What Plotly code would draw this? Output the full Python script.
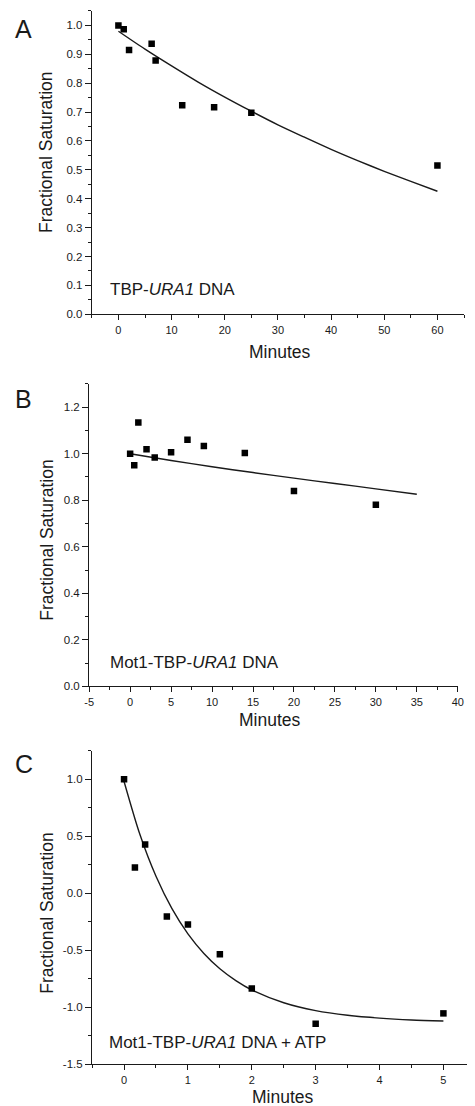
import plotly.graph_objects as go

W, H = 475, 1106

# ---------------- data ----------------
# Panel A: TBP-URA1 DNA
a_x = [0, 1, 2, 6.25, 7, 12, 18, 25, 60]
a_y = [1.0, 0.987, 0.915, 0.937, 0.879, 0.724, 0.717, 0.698, 0.515]
a_fit_x = [0, 5, 10, 15, 20, 25, 30, 35, 40, 45, 50, 55, 60]
a_fit_y = [0.980, 0.918, 0.860, 0.804, 0.752, 0.703, 0.656, 0.613, 0.571, 0.532, 0.495, 0.460, 0.426]

# Panel B: Mot1-TBP-URA1 DNA
b_x = [0, 0.5, 1, 2, 3, 5, 7, 9, 14, 20, 30]
b_y = [1.0, 0.950, 1.134, 1.019, 0.984, 1.006, 1.060, 1.033, 1.003, 0.840, 0.781]
b_fit_x = [0, 5, 10, 15, 20, 25, 30, 35]
b_fit_y = [1.000, 0.971, 0.944, 0.919, 0.895, 0.872, 0.849, 0.826]

# Panel C: Mot1-TBP-URA1 DNA + ATP
c_x = [0, 0.17, 0.33, 0.67, 1, 1.5, 2, 3, 5]
c_y = [1.0, 0.225, 0.427, -0.204, -0.274, -0.536, -0.836, -1.144, -1.054]
c_fit_x = [0, 0.25, 0.5, 0.75, 1.0, 1.25, 1.5, 1.75, 2.0, 2.5, 3.0, 3.5, 4.0, 4.5, 5.0]
c_fit_y = [0.98, 0.512, 0.148, -0.136, -0.357, -0.529, -0.663, -0.767, -0.849, -0.961, -1.030, -1.071, -1.096, -1.112, -1.121]

# tick labels
a_xticks = [0, 10, 20, 30, 40, 50, 60]
a_yticks = [0.0, 0.1, 0.2, 0.3, 0.4, 0.5, 0.6, 0.7, 0.8, 0.9, 1.0]
b_xticks = [-5, 0, 5, 10, 15, 20, 25, 30, 35, 40]
b_yticks = [0.0, 0.2, 0.4, 0.6, 0.8, 1.0, 1.2]
c_xticks = [0, 1, 2, 3, 4, 5]
c_yticks = [-1.5, -1.0, -0.5, 0.0, 0.5, 1.0]

FONT = "Liberation Sans, Arial, sans-serif"
INK = "#1a1a1a"


def lab(v, nd):
    return f"{v:.{nd}f}"  # hyphen-minus kept as in the reference


def px_x(p):
    return p / W


def px_y(p):
    return 1 - p / H


fig = go.Figure()

panels = [
    (a_x, a_y, a_fit_x, a_fit_y, "x", "y"),
    (b_x, b_y, b_fit_x, b_fit_y, "x2", "y2"),
    (c_x, c_y, c_fit_x, c_fit_y, "x3", "y3"),
]
for px_, py_, fx, fy, xa, ya in panels:
    fig.add_trace(go.Scatter(x=fx, y=fy, mode="lines",
                             line=dict(color=INK, width=1.4, shape="spline", smoothing=0.8),
                             xaxis=xa, yaxis=ya, showlegend=False, hoverinfo="skip"))
    fig.add_trace(go.Scatter(x=px_, y=py_, mode="markers",
                             marker=dict(symbol="square", size=6.5, color="black"),
                             xaxis=xa, yaxis=ya, showlegend=False))


def xax(domain, anchor, rng, ticks, nd, minor_dtick):
    return dict(domain=domain, anchor=anchor, range=rng, tickmode="array", tickvals=ticks,
                ticktext=[lab(t, nd) for t in ticks], showline=True, linecolor=INK, linewidth=1.3,
                ticks="outside", ticklen=5, tickwidth=1.2, tickcolor=INK, showgrid=False, zeroline=False,
                tickfont=dict(family=FONT, size=11, color=INK),
                minor=dict(dtick=minor_dtick, tick0=0, ticks="outside", ticklen=3, tickwidth=1.1, tickcolor=INK,
                           showgrid=False))


def yax(domain, anchor, rng, ticks, nd, minor_dtick):
    d = xax(domain, anchor, rng, ticks, nd, minor_dtick)
    d["ticklen"] = 6
    d["tickfont"] = dict(family=FONT, size=11.5, color=INK)
    return d


fig.update_layout(
    width=W, height=H, margin=dict(l=0, r=0, t=0, b=0),
    paper_bgcolor="white", plot_bgcolor="white",
    xaxis=xax([px_x(80.7), px_x(461.7)], "y", [-5, 65], a_xticks, 0, 5),
    yaxis=yax([px_y(308), px_y(3)], "x", [0, 1.05], a_yticks, 1, 0.05),
    xaxis2=xax([px_x(78), px_x(455.3)], "y2", [-5, 40], b_xticks, 0, 2.5),
    yaxis2=yax([px_y(682), px_y(378)], "x2", [0, 1.3], b_yticks, 1, 0.1),
    xaxis3=xax([px_x(81), px_x(473.3)], "y3", [-0.5, 5.5], c_xticks, 0, 0.5),
    yaxis3=yax([px_y(1062), px_y(746.7)], "x3", [-1.5, 1.25], c_yticks, 1, 0.25),
)

ann = []
# panel letters
for letter, yc in [("A", 21), ("B", 393), ("C", 760)]:
    ann.append(dict(text=letter, x=0, y=px_y(yc), xref="paper", yref="paper", xanchor="left", yanchor="middle",
                    showarrow=False, font=dict(family=FONT, size=25, color=INK)))
# y titles
for yc in [145, 535, 910]:
    ann.append(dict(text="Fractional Saturation", x=px_x(34.5), y=px_y(yc), xref="paper", yref="paper",
                    xanchor="center", yanchor="middle", textangle=-90, showarrow=False,
                    font=dict(family=FONT, size=17.5, color=INK)))
# x titles
for xc, yc in [(273.7, 345.7), (263.3, 715.7), (276, 1095)]:
    ann.append(dict(text="Minutes", x=px_x(xc), y=px_y(yc), xref="paper", yref="paper",
                    xanchor="center", yanchor="middle", showarrow=False,
                    font=dict(family=FONT, size=17.5, color=INK)))
# in-plot labels
for txt, xl, yc in [("TBP-<i>URA1</i> DNA", 97.7, 283.3),
                    ("Mot1-TBP-<i>URA1</i> DNA", 97.7, 657.7),
                    ("Mot1-TBP-<i>URA1</i> DNA + ATP", 96, 1040.5)]:
    ann.append(dict(text=txt, x=px_x(xl), y=px_y(yc), xref="paper", yref="paper",
                    xanchor="left", yanchor="middle", showarrow=False,
                    font=dict(family=FONT, size=17, color=INK)))
fig.update_layout(annotations=ann)

fig.write_html("out.html")
